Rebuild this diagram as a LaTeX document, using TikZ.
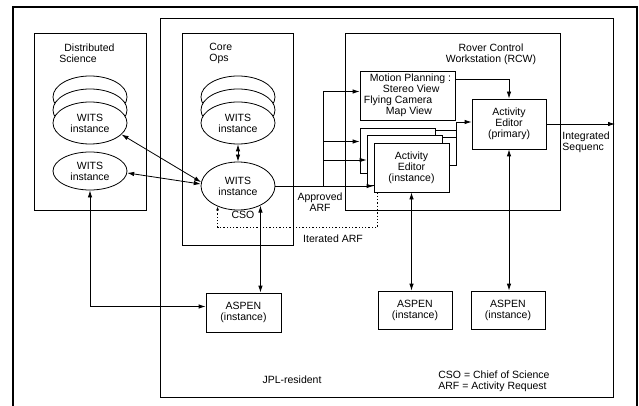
\documentclass[tikz,border=0pt]{standalone}
\usepackage{fontspec}
\setmainfont{Liberation Sans}
\usetikzlibrary{arrows.meta,calc,shapes.geometric}

\tikzset{
	wits/.style={ellipse, draw, fill=white, minimum width=74, minimum height=42, inner sep=0, align=center},
	blk/.style={draw, fill=white, inner sep=0, align=center},
	lbl/.style={inner sep=0, align=center},
}

\begin{document}
\begin{tikzpicture}[x=1pt, y=-1pt, line width=0.8pt, font=\fontsize{10.5}{11}\selectfont, >={Latex[length=7pt,width=4.5pt]}]
		\useasboundingbox (0,0) rectangle (639,406);
		% frames
		\draw[line width=1.6pt] (13,412) -- (13,7) -- (637,7) -- (637,412);
		\draw (160,18) rectangle (613,397);
		\draw (34,33) rectangle (146,210);
		\draw (182,33) rectangle (293,245);
		\draw (345,33) rectangle (560,210);
		
		\node (dsTitle) at (59,53) [lbl, anchor=west, align=left] {\hspace*{5pt}Distributed\\Science};
		\node (coreTitle) at (209,53) [lbl, anchor=west, align=left] {Core\\Ops};
		\node (rcwTitle) at (491,54) [lbl] {Rover Control\\Workstation (RCW)};
		
		% WITS instances
		\node (dsA3) at (90,97) [wits] {};
		\node (dsA2) at (90,110) [wits] {};
		\node (dsA) at (90,123) [wits] {WITS\\instance};
		\node (dsB) at (90,171) [wits, minimum height=38] {WITS\\instance};
		\node (coreA3) at (238,97) [wits] {};
		\node (coreA2) at (238,110) [wits] {};
		\node (coreA) at (238,123) [wits] {WITS\\instance};
		\node (core) at (238,186) [wits, minimum height=48] {WITS\\instance};
		
		% RCW
		\node (mp) at (407.5,95.5) [blk, minimum width=95, minimum height=49, align=left] {\hspace*{6pt}Motion Planning :\\\hspace*{19pt}Stereo View\\Flying Camera\\\hspace*{22pt}Map View};
		\node (aeA) at (397.5,150.5) [blk, minimum width=75, minimum height=45] {};
		\node (aeB) at (404.5,160) [blk, minimum width=75, minimum height=50] {};
		\node (aeC) at (411.5,167.5) [blk, minimum width=75, minimum height=49] {Activity\\Editor\\(instance)};
		\node (aeP) at (509,124) [blk, minimum width=74, minimum height=50] {Activity\\Editor\\(primary)};
		
		% ASPEN
		\node (asp1) at (243.5,312.5) [blk, minimum width=75, minimum height=39] {ASPEN\\(instance)};
		\node (asp2) at (415,310) [blk, minimum width=74, minimum height=38] {ASPEN\\(instance)};
		\node (asp3) at (508,310) [blk, minimum width=74, minimum height=38] {ASPEN\\(instance)};
		
		\node (approved) at (320,202) [lbl] {Approved\\ARF};
		\node (cso) at (243,215) [lbl] {CSO};
		\node (iterated) at (333,239) [lbl] {Iterated ARF};
		\node (integrated) at (562,142) [lbl, anchor=west, align=left] {Integrated\\Sequenc};
		\node (jpl) at (292,380) [lbl] {JPL-resident};
		\node (legend) at (438,381) [lbl, anchor=west, align=left] {CSO = Chief of Science\\ARF = Activity Request};
		
		\coordinate (split) at (323,186);
		\coordinate (mpIn) at ($(mp.west)+(0,-4)$);
		\coordinate (aeAin) at ($(aeA.west)+(0,-9)$);
		\coordinate (join) at ($(aeP.west)+(-15,-2)$);
		\coordinate (seqOut) at (615,124);
		\coordinate (asp1In) at ($(asp1.west)+(0,-6)$);
		
		\draw[<->] (dsA.-20) -- (core.174);
		\draw[<->] (dsB.-3) -- (core.177);
		\draw[<->] (coreA.south) -- (core.north);
		\draw[<->] (dsB.south) |- (asp1In);
		\draw[<->] (core.-41) -- (core.-41 |- asp1.north);
		
		\draw[->] (core.east) -- (core.east -| aeC.west);
		\draw[->] (split) |- (mpIn);
		\draw[->] (split) |- (aeAin);
		\draw[->] (split) |- (aeB.west);
		
		\draw ($(aeA.north east)+(0,3)$) -| (join);
		\draw ($(aeB.north east)+(0,3)$) -| (join);
		\draw ($(aeC.east)+(0,-2)$) -| (join);
		\draw[->] (join) -- (join -| aeP.west);
		\draw[->] ($(mp.north east)+(0,9)$) -| (aeP.north);
		\draw[->] (aeP.east) -- (seqOut);
		
		\draw[<->] (aeC.south) -- (aeC.south |- asp2.north);
		\draw[<->] (aeP.south) -- (aeP.south |- asp3.north);
		
		\draw[->, dotted, line width=1.3pt, >={Latex[length=4pt,width=3pt]}] ($(aeC.south west)+(4,0)$) -- ++(0,35) -| (core.225);
	\end{tikzpicture}
\end{document}
